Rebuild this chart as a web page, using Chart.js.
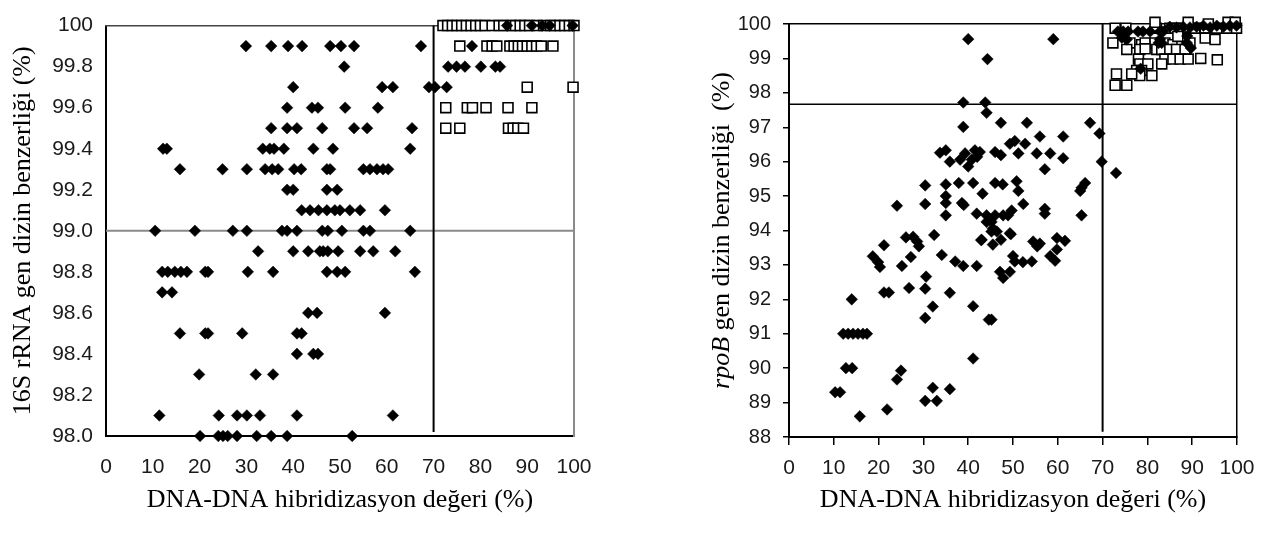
<!DOCTYPE html>
<html>
<head>
<meta charset="utf-8">
<script src="https://cdn.jsdelivr.net/npm/chart.js@4/dist/chart.umd.min.js"></script>
<style>
  html, body { margin: 0; padding: 0; background: #fff; }
  #wrap { position: relative; width: 1268px; height: 538px; }
  canvas { position: absolute; top: 0; }
  #left { left: 0; }
  #right { left: 640px; }
</style>
</head>
<body>
<div id="wrap">
  <canvas id="left" width="640" height="538"></canvas>
  <canvas id="right" width="628" height="538"></canvas>
</div>
<script>
// ---- data: [DNA-DNA %, sequence similarity %] ----
const xTicks = [0, 10, 20, 30, 40, 50, 60, 70, 80, 90, 100]
const leftYTicks = [98, 98.2, 98.4, 98.6, 98.8, 99, 99.2, 99.4, 99.6, 99.8, 100]
const leftYTickLabels = ['98.0', '98.2', '98.4', '98.6', '98.8', '99.0', '99.2', '99.4', '99.6', '99.8', '100']
const rightYTicks = [88, 89, 90, 91, 92, 93, 94, 95, 96, 97, 98, 99, 100]
const rightYTickLabels = ['88', '89', '90', '91', '92', '93', '94', '95', '96', '97', '98', '99', '100']

const ddhCutoff = 70
const leftCutoff = 99.0
const rightCutoff = 97.67

const leftDiamonds = [
  [85.7,100],[91,100],[93.2,100],[94.8,100],[99.7,100],
  [29.9,99.9],[35.3,99.9],[38.9,99.9],[41.9,99.9],[47.9,99.9],[50.2,99.9],[53,99.9],[67.3,99.9],[78.2,99.9],
  [50.9,99.8],[73.1,99.8],[74.9,99.8],[76.7,99.8],[80.1,99.8],[83.2,99.8],[84.2,99.8],
  [40,99.7],[59,99.7],[61.3,99.7],[69,99.7],[70.3,99.7],[72.8,99.7],
  [38.7,99.6],[44,99.6],[45.3,99.6],[51.1,99.6],[58.1,99.6],
  [35.3,99.5],[38.7,99.5],[40.8,99.5],[46.2,99.5],[53,99.5],[55.8,99.5],[65.4,99.5],
  [12.2,99.4],[13,99.4],[33.5,99.4],[35,99.4],[35.9,99.4],[38,99.4],[44.3,99.4],[48.5,99.4],[65,99.4],
  [15.8,99.3],[24.9,99.3],[30.1,99.3],[34,99.3],[35.5,99.3],[36.8,99.3],[40.2,99.3],[41.7,99.3],[47.2,99.3],[47.9,99.3],
  [55,99.3],[56.4,99.3],[57.9,99.3],[59.2,99.3],[60.3,99.3],
  [38.7,99.2],[40,99.2],[47.2,99.2],[49.4,99.2],
  [41.8,99.1],[43.6,99.1],[45.4,99.1],[47.2,99.1],[48.9,99.1],[50,99.1],[52.1,99.1],[54.3,99.1],[59.6,99.1],
  [10.5,99],[19,99],[27.1,99],[30.1,99],[37.6,99],[38.7,99],[40.8,99],[46.2,99],[47.4,99],[50.4,99],[55,99],[56.4,99],[65,99],
  [32.5,98.9],[40,98.9],[43.2,98.9],[45.7,98.9],[46.4,98.9],[47.4,98.9],[49.6,98.9],[54.3,98.9],[57.1,98.9],[61.8,98.9],
  [12,98.8],[13.2,98.8],[14.7,98.8],[16,98.8],[17.3,98.8],[21.2,98.8],[21.8,98.8],[30.3,98.8],[35.7,98.8],
  [47.2,98.8],[49.4,98.8],[51.1,98.8],[66,98.8],
  [12,98.7],[14.1,98.7],
  [43.2,98.6],[45.1,98.6],[59.6,98.6],
  [15.8,98.5],[21.2,98.5],[21.8,98.5],[29.1,98.5],[40.8,98.5],[41.8,98.5],
  [40.8,98.4],[44.3,98.4],[45.3,98.4],
  [19.9,98.3],[32,98.3],[35.7,98.3],
  [11.4,98.1],[24.1,98.1],[28,98.1],[30.1,98.1],[32.9,98.1],[40.8,98.1],[61.3,98.1],
  [20.1,98],[24,98],[25,98],[26,98],[28,98],[32.2,98],[35.3,98],[38.7,98],[52.6,98]
]

const leftSquares = [
  [72,100],[73,100],[74,100],[75,100],[76,100],[77,100],[78,100],[79,100],[80,100],[81,100],[82.5,100],[84,100],[85,100],
  [86.5,100],[87.5,100],[88.5,100],[89.5,100],[90.5,100],[92,100],[93.5,100],[95,100],[96,100],[97,100],[98,100],[99,100],[100,100],
  [75.6,99.9],[81.4,99.9],[82.5,99.9],[83.5,99.9],[86.3,99.9],[87.2,99.9],[88.1,99.9],[89,99.9],[90,99.9],[91,99.9],[92,99.9],[93,99.9],[95.5,99.9],
  [90,99.7],[99.8,99.7],
  [72.6,99.6],[77.2,99.6],[78.3,99.6],[81.2,99.6],[85.9,99.6],[91,99.6],
  [72.6,99.5],[75.6,99.5],[86,99.5],[87,99.5],[88,99.5],[89.2,99.5]
]

const rightDiamonds = [
  [10.3,89.3],[11.4,89.3],[14,92],[12.1,91],[13.2,91],[14.3,91],[15.4,91],[16.5,91],[17.4,91],[12.7,90],[14.1,90],[15.8,88.6],
  [18.7,93.25],[19.9,93.08],[20.3,92.94],[21.2,93.57],[21.2,92.2],[22.3,92.2],[21.9,88.8],[24.1,89.67],[25,89.93],[25.2,92.97],
  [24.1,94.72],
  [26.1,93.8],[27.7,93.82],[28.6,93.68],[29,93.54],[27.2,93.23],[26.8,92.33],[30.4,92.31],[30.6,92.66],[30.4,91.46],[30.4,89.05],
  [30.4,95.31],[30.4,94.77],
  [32.1,91.79],[32.4,93.87],[32.1,89.43],[33,89.05],[34.1,93.29],[35.9,92.19],[35.9,89.39],[37.1,93.1],[38.9,92.97],
  [33.7,96.26],[35,96.33],[35.9,96],[35,95.34],[35,95],[35,94.8],[35,94.44],
  [37.9,95.38],[38.6,94.8],[39,94.74],[38.9,97.01],[38.9,97.72],[40,99.56],
  [38.2,96.06],[39.3,96.24],[40,95.86],[40.8,96.06],[41.5,96.33],[42,96.14],[42.6,96.28],
  [41.1,95.38],[43.2,95.07],[41.9,94.49],[41.1,91.8],[41.1,90.28],[41.9,92.97],[42.9,93.72],
  [44.1,94.44],[45.2,94.25],[46,94.44],[45.5,94.06],[46.4,93.97],[45.2,93.97],[44.1,94.25],
  [43,93.73],[45.5,93.59],[47.3,93.73],
  [44.6,91.41],[45.2,91.41],
  [47.1,92.8],[47.8,92.62],[49.3,92.8],[49.5,93.89],[50,93.26],[50.4,93.1],[52.2,93.08],[54.2,93.1],
  [54.5,93.68],[55.4,93.54],[56,93.62],[58.3,93.26],[59.4,93.12],[59.8,93.78],[61.6,93.7],[59.8,93.45],
  [46,95.38],[47.7,95.34],[50.8,95.43],[51.2,95.15],[46,96.28],[47.3,96.19],[47.3,97.13],[44.1,97.42],[43.8,97.72],[44.3,98.98],
  [49.3,96.52],[50.4,96.6],[52.7,96.52],[53.1,97.13],[49.7,94.58],[48.9,94.44],[47.8,94.44],[49.3,93.92],[52.3,94.77],
  [55.3,96.24],[51.2,96.24],[58.3,96.24],[56,96.73],[61.2,96.73],[61.2,96.1],[57.1,95.78],
  [59,99.56],[67.2,97.13],[69.3,96.82],[69.8,96],[73,95.67],
  [57.1,94.63],[57.1,94.49],[65.3,95.24],[66.1,95.38],[65,95.15],[65.3,94.44],
  [73.4,99.78],[74.6,99.78],[75.7,99.78],[77.9,99.78],[79,99.78],[80.6,99.78],[82.8,99.78],[83.5,99.78],
  [74.3,99.6],[75.4,99.55],[82.8,99.55],[83.2,99.45],
  [85,99.92],[86.5,99.9],[88,99.92],[89.5,99.9],[91,99.92],[92.5,99.95],[94,99.9],[95.5,99.95],[97,99.92],[98.4,99.95],[99.9,99.95],
  [82.5,99.45],[88.8,99.45],[89.7,99.3],[88.9,99.65],[78.5,98.7]
]

const rightSquares = [
  [72.8,99.88],[75.2,99.88],[82,99.88],[85,99.88],[86.2,99.88],[87.7,99.88],[89.5,99.88],[90.6,99.88],[92.9,99.88],[95.5,99.88],[97.7,99.88],[99.9,99.88],
  [81.7,100.05],[89.1,100.05],[93.6,100],[98,100.05],[99.6,100.05],
  [72.3,99.45],[76.1,99.45],[78.7,99.4],[79.5,99.45],[81.7,99.45],[83.9,99.45],[85.7,99.4],[87.7,99.45],[89.5,99.45],
  [86.8,99.64],[92.9,99.59],[95.1,99.55],
  [75.4,99.26],[78.3,99.26],[79.5,99.28],[82.1,99.26],[83.2,99.26],[85,99.26],[86.5,99.26],[88.4,99.26],
  [78,98.98],[83.9,98.98],[85.7,98.98],[87.3,98.98],[89.1,98.98],[91.9,99],[95.6,98.96],
  [78.3,98.84],[80.1,98.84],[83.2,98.84],
  [77.6,98.65],[78.7,98.65],[81,98.5],[78.3,98.5],
  [73.1,98.55],[76.5,98.55],
  [72.8,98.22],[75.4,98.22]
]

const pts = arr => arr.map(p => ({ x: p[0], y: p[1] }))

const tickFont = size => ({ family: 'Liberation Sans', size: size })
const titleFont = { family: 'Liberation Serif', size: 26 }

// sized boxes so the plot frame sits where the reference has it
const fixWidth = w => scale => { scale.width = w }
const fixHeight = h => scale => { scale.height = h }

const diamondSet = data => ({
    data: pts(data), pointStyle: 'rectRot', pointRadius: 5.8, pointHoverRadius: 5.8,
    backgroundColor: '#000', borderColor: '#000', borderWidth: 0.5, clip: false
})
const squareSet = data => ({
    data: pts(data), pointStyle: 'rect', pointRadius: 7, pointHoverRadius: 7,
    backgroundColor: '#fff', borderColor: '#000', borderWidth: 1.6, clip: false
})
const lineSet = (data, color, width) => ({
    data: pts(data), showLine: true, pointRadius: 0, borderColor: color, borderWidth: width, clip: false
})

const baseOptions = {
    responsive: false, animation: false, devicePixelRatio: 1,
    layout: { padding: 0 },
    plugins: { legend: { display: false }, tooltip: { enabled: false } }
}

const setTicks = values => scale => { scale.ticks = values.map(v => ({ value: v })) }

// ---- left: 16S rRNA ----
new Chart(document.getElementById('left'), {
    type: 'scatter',
    data: {
        datasets: [
            diamondSet(leftDiamonds),
            squareSet(leftSquares),
            lineSet([[ddhCutoff, 98.02], [ddhCutoff, 100]], '#000', 2),
            lineSet([[0, leftCutoff], [100, leftCutoff]], '#8a8a8a', 2)
        ]
    },
    options: {
        ...baseOptions,
        scales: {
            x: {
                type: 'linear', position: 'bottom', min: 0, max: 100,
                afterBuildTicks: setTicks(xTicks), afterFit: fixHeight(102),
                grid: { drawOnChartArea: false, drawTicks: false },
                border: { color: '#000', width: 2 },
                ticks: { font: tickFont(21), color: '#1a1a1a', padding: 19 },
                title: { display: true, text: 'DNA-DNA hibridizasyon değeri (%)', font: titleFont, color: '#000', padding: { top: 0, bottom: 22 } }
            },
            y: {
                type: 'linear', position: 'left', min: 98, max: 100,
                afterBuildTicks: setTicks(leftYTicks), afterFit: fixWidth(106),
                grid: { drawOnChartArea: false, drawTicks: false },
                border: { color: '#000', width: 2 },
                ticks: { font: tickFont(21), color: '#1a1a1a', padding: 13, callback: (v, i) => leftYTickLabels[i] },
                title: { display: true, text: '16S rRNA gen dizin benzerliği (%)', font: titleFont, color: '#000', padding: { top: 8, bottom: 0 } }
            },
            xTop: {
                type: 'linear', position: 'top', min: 0, max: 100, afterFit: fixHeight(14),
                grid: { drawOnChartArea: false, drawTicks: false }, ticks: { display: false },
                border: { color: '#444', width: 1.5 }
            },
            yRight: {
                type: 'linear', position: 'right', min: 98, max: 100, afterFit: fixWidth(66),
                grid: { drawOnChartArea: false, drawTicks: false }, ticks: { display: false },
                border: { color: '#8a8a8a', width: 2 }
            }
        }
    }
})

// ---- right: rpoB, title has an italic gene name so it is drawn here ----
const rpoBTitle = {
    id: 'rpoBTitle',
    afterDraw(chart) {
        const ctx = chart.ctx
        const area = chart.chartArea
        const parts = [
            ['italic 26px "Liberation Serif"', 'rpoB'],
            ['26px "Liberation Serif"', ' gen dizin benzerliği  (%)']
        ]
        let total = 0
        parts.forEach(p => { ctx.font = p[0]; total += ctx.measureText(p[1]).width })
        ctx.save()
        ctx.translate(82, (area.top + area.bottom) / 2)
        ctx.rotate(-Math.PI / 2)
        ctx.fillStyle = '#000'
        ctx.textBaseline = 'middle'
        ctx.textAlign = 'left'
        let x = -total / 2
        parts.forEach(p => {
            ctx.font = p[0]
            ctx.fillText(p[1], x, 0)
            x += ctx.measureText(p[1]).width
        })
        ctx.restore()
    }
}

new Chart(document.getElementById('right'), {
    type: 'scatter',
    data: {
        datasets: [
            diamondSet(rightDiamonds),
            squareSet(rightSquares),
            lineSet([[ddhCutoff, 88.15], [ddhCutoff, 100]], '#000', 2),
            lineSet([[0, rightCutoff], [100, rightCutoff]], '#000', 1.6)
        ]
    },
    options: {
        ...baseOptions,
        scales: {
            x: {
                type: 'linear', position: 'bottom', min: 0, max: 100,
                afterBuildTicks: setTicks(xTicks), afterFit: fixHeight(101),
                grid: { drawOnChartArea: false, drawTicks: true, tickLength: 8, tickColor: '#000', color: '#000', lineWidth: 1.5 },
                border: { color: '#000', width: 2 },
                ticks: { font: tickFont(21), color: '#1a1a1a', padding: 11 },
                title: { display: true, text: 'DNA-DNA hibridizasyon değeri (%)', font: titleFont, color: '#000', padding: { top: 0, bottom: 22 } }
            },
            y: {
                type: 'linear', position: 'left', min: 88, max: 100,
                afterBuildTicks: setTicks(rightYTicks), afterFit: fixWidth(149),
                grid: { drawOnChartArea: false, drawTicks: true, tickLength: 6, tickColor: '#000', color: '#000', lineWidth: 1.5 },
                border: { color: '#000', width: 2 },
                ticks: { font: tickFont(20), color: '#1a1a1a', padding: 12, callback: (v, i) => rightYTickLabels[i] }
            },
            xTop: {
                type: 'linear', position: 'top', min: 0, max: 100, afterFit: fixHeight(14),
                grid: { drawOnChartArea: false, drawTicks: false }, ticks: { display: false },
                border: { color: '#000', width: 1.5 }
            },
            yRight: {
                type: 'linear', position: 'right', min: 88, max: 100, afterFit: fixWidth(31),
                grid: { drawOnChartArea: false, drawTicks: false }, ticks: { display: false },
                border: { color: '#000', width: 1.5 }
            }
        }
    },
    plugins: [rpoBTitle]
})
</script>
</body>
</html>
